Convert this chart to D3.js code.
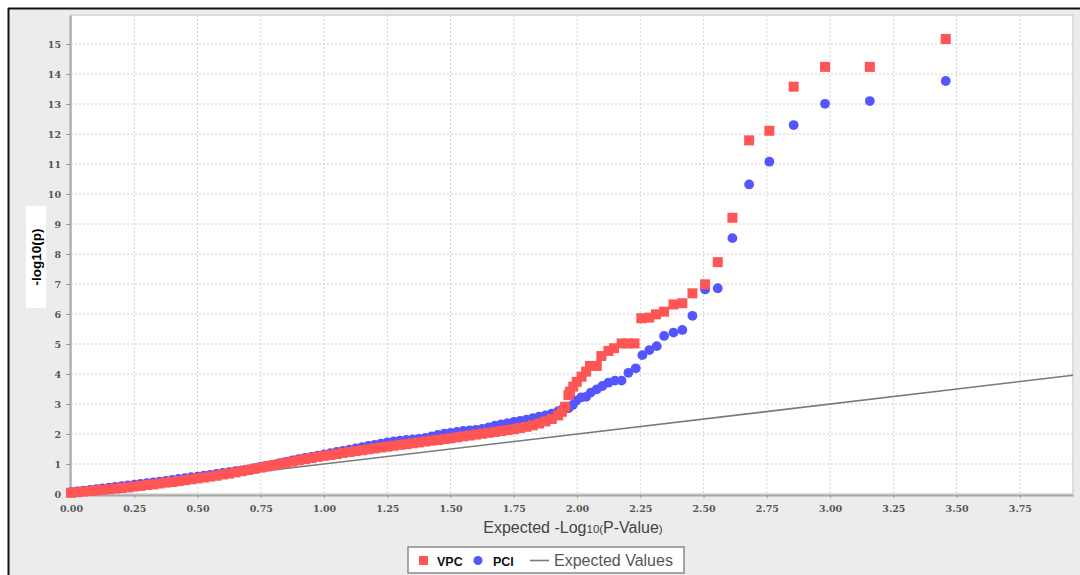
<!DOCTYPE html>
<html><head><meta charset="utf-8">
<script src="https://cdn.jsdelivr.net/npm/d3@7"></script>
<style>html,body{margin:0;padding:0;background:#fff;}svg{display:block;}</style>
</head><body>
<svg id="chart" width="1080" height="575"></svg>
<script>
// ---- data ----
const pciExpected = [0.000,0.025,0.050,0.075,0.100,0.125,0.150,0.175,0.200,0.225,0.250,0.275,0.300,0.325,0.350,0.375,0.400,0.425,0.450,0.475,0.500,0.525,0.550,0.575,0.600,0.625,0.650,0.675,0.700,0.725,0.750,0.775,0.800,0.825,0.850,0.875,0.900,0.925,0.950,0.975,1.000,1.025,1.050,1.075,1.100,1.125,1.150,1.175,1.200,1.225,1.250,1.275,1.300,1.325,1.350,1.375,1.400,1.425,1.450,1.475,1.500,1.525,1.550,1.575,1.600,1.625,1.650,1.675,1.700,1.725,1.750,1.775,1.800,1.825,1.850,1.875,1.900,1.925,
  1.946,1.966,1.983,1.996,2.016,2.036,2.054,2.078,2.100,2.124,2.150,2.176,2.203,2.232,2.258,2.286,2.315,2.344,2.381,2.416,2.456,2.506,2.556,2.614,2.680,2.760,2.856,2.980,3.157,3.457];
const pciObserved = [0.06,0.09,0.11,0.14,0.16,0.19,0.21,0.24,0.26,0.29,0.31,0.34,0.36,0.39,0.41,0.44,0.47,0.50,0.53,0.56,0.58,0.61,0.64,0.67,0.70,0.73,0.76,0.79,0.82,0.86,0.90,0.94,0.98,1.03,1.07,1.12,1.16,1.20,1.24,1.28,1.32,1.36,1.40,1.44,1.48,1.52,1.56,1.60,1.64,1.68,1.72,1.75,1.78,1.80,1.82,1.84,1.87,1.92,1.97,2.01,2.04,2.07,2.10,2.12,2.14,2.17,2.22,2.28,2.32,2.36,2.40,2.44,2.48,2.53,2.58,2.62,2.68,2.76,
  2.86,2.86,2.97,3.11,3.22,3.24,3.38,3.49,3.60,3.71,3.78,3.78,4.04,4.19,4.63,4.80,4.93,5.27,5.38,5.47,5.94,6.82,6.86,8.53,10.32,11.08,12.30,13.01,13.10,13.77];

const vpcExpected = [0.000,0.025,0.050,0.075,0.100,0.125,0.150,0.175,0.200,0.225,0.250,0.275,0.300,0.325,0.350,0.375,0.400,0.425,0.450,0.475,0.500,0.525,0.550,0.575,0.600,0.625,0.650,0.675,0.700,0.725,0.750,0.775,0.800,0.825,0.850,0.875,0.900,0.925,0.950,0.975,1.000,1.025,1.050,1.075,1.100,1.125,1.150,1.175,1.200,1.225,1.250,1.275,1.300,1.325,1.350,1.375,1.400,1.425,1.450,1.475,1.500,1.525,1.550,1.575,1.600,1.625,1.650,1.675,1.700,1.725,1.750,1.775,1.800,1.825,1.850,1.875,1.900,1.925,1.940,
  1.953,1.966,1.972,1.985,1.999,2.018,2.036,2.051,2.078,2.096,2.124,2.146,2.176,2.200,2.227,2.254,2.285,2.312,2.344,2.381,2.416,2.456,2.506,2.556,2.614,2.680,2.760,2.856,2.980,3.157,3.457];
const vpcObserved = [0.04,0.06,0.08,0.10,0.12,0.14,0.16,0.18,0.20,0.22,0.25,0.27,0.30,0.32,0.35,0.38,0.40,0.43,0.46,0.49,0.52,0.55,0.58,0.61,0.65,0.68,0.72,0.76,0.80,0.84,0.88,0.92,0.96,1.00,1.04,1.08,1.12,1.16,1.20,1.24,1.27,1.30,1.33,1.37,1.40,1.43,1.46,1.49,1.52,1.55,1.58,1.61,1.64,1.66,1.69,1.72,1.75,1.78,1.80,1.83,1.86,1.89,1.92,1.95,1.98,2.01,2.04,2.07,2.10,2.13,2.16,2.20,2.24,2.29,2.35,2.42,2.50,2.62,2.74,
  2.91,3.30,3.41,3.58,3.74,3.91,4.08,4.27,4.27,4.60,4.77,4.86,5.02,5.02,5.02,5.86,5.88,5.99,6.08,6.32,6.36,6.69,6.99,7.73,9.21,11.79,12.11,13.58,14.24,14.24,15.17];

const expectedLine = [0, 3.96];
const xTicks = [0,0.25,0.5,0.75,1,1.25,1.5,1.75,2,2.25,2.5,2.75,3,3.25,3.5,3.75];
const yTicks = [0,1,2,3,4,5,6,7,8,9,10,11,12,13,14,15];
const seriesNames = ["VPC","PCI","Expected Values"];
const xTitle = "Expected -Log";
const yTitle = "-log10(p)";

// ---- drawing ----
const svg = d3.select("#chart");
const W = 1080, H = 575;
const L = 71, R = 1073, T = 15, B = 494;
const RED = "#ff5555", BLUE = "#5555ff";

// outer background and frame
svg.append("rect").attr("x",0).attr("y",0).attr("width",W).attr("height",H).attr("fill","#ffffff");
svg.append("rect").attr("x",9).attr("y",9).attr("width",W-9).attr("height",H-9).attr("fill","#ececec");
svg.append("line").attr("x1",8).attr("x2",W).attr("y1",8.5).attr("y2",8.5).attr("stroke","#111").attr("stroke-width",2);
svg.append("line").attr("x1",8.5).attr("x2",8.5).attr("y1",8).attr("y2",H).attr("stroke","#111").attr("stroke-width",2);

const x = d3.scaleLinear().domain([0,3.96]).range([L,R]);
const y = d3.scaleLinear().domain([0,15.97]).range([B,T]);

// plot background
svg.append("rect").attr("x",L).attr("y",T).attr("width",R-L).attr("height",B-T)
  .attr("fill","#fff").attr("stroke","#d4d4d4").attr("stroke-width",1.5);

// grid
const grid = svg.append("g");
grid.selectAll("line.gx").data(xTicks.slice(1)).join("line")
  .attr("x1",d=>x(d)).attr("x2",d=>x(d)).attr("y1",T).attr("y2",B)
  .attr("stroke","#d2d2d2").attr("stroke-width",1).attr("stroke-dasharray","2,2");
grid.selectAll("line.gy").data(yTicks.slice(1)).join("line")
  .attr("x1",L).attr("x2",R).attr("y1",d=>y(d)).attr("y2",d=>y(d))
  .attr("stroke","#d2d2d2").attr("stroke-width",1).attr("stroke-dasharray","2,2");

// axes
const xAxis = svg.append("g").attr("transform",`translate(0,${B+1})`)
  .call(d3.axisBottom(x).tickValues(xTicks).tickFormat(d3.format(".2f")).tickSize(3).tickSizeOuter(0));
const yAxis = svg.append("g").attr("transform",`translate(${L-1},0)`)
  .call(d3.axisLeft(y).tickValues(yTicks).tickFormat(d3.format("d")).tickSize(4).tickSizeOuter(0));
[xAxis,yAxis].forEach(a=>{
  a.select(".domain").attr("stroke","#a8a8a8").attr("stroke-width",2);
  a.selectAll(".tick line").attr("stroke","#999");
  a.selectAll(".tick text").attr("fill","#555").attr("font-family","DejaVu Serif").attr("font-size",9.5).attr("font-weight","bold");
});
xAxis.selectAll(".tick text").attr("dy","1.2em");
yAxis.selectAll(".tick text").attr("dx","-2");

// expected line
svg.append("line")
  .attr("x1",x(expectedLine[0])).attr("y1",y(expectedLine[0]))
  .attr("x2",x(expectedLine[1])).attr("y2",y(expectedLine[1]))
  .attr("stroke","#7a7a7a").attr("stroke-width",1.6);

// PCI (blue circles)
svg.append("g").selectAll("circle").data(pciExpected.map((e,i)=>[e,pciObserved[i]])).join("circle")
  .attr("cx",d=>x(d[0])).attr("cy",d=>y(d[1])).attr("r",4.9).attr("fill",BLUE);
// VPC (red squares)
const s = 10;
svg.append("g").selectAll("rect").data(vpcExpected.map((e,i)=>[e,vpcObserved[i]])).join("rect")
  .attr("x",d=>x(d[0])-s/2).attr("y",d=>y(d[1])-s/2).attr("width",s).attr("height",s).attr("fill",RED);

// x title
const xt = svg.append("text").attr("x",573).attr("y",533).attr("text-anchor","middle")
  .attr("font-family","Liberation Sans, Arial, sans-serif").attr("font-size",16).attr("fill","#444");
xt.append("tspan").text(xTitle);
xt.append("tspan").attr("font-size",11.5).text("10(");
xt.append("tspan").text("P-Value");
xt.append("tspan").attr("font-size",11.5).text(")");

// y title
svg.append("rect").attr("x",26).attr("y",206).attr("width",20).attr("height",102).attr("fill","#fff");
svg.append("text").attr("transform","translate(41,257) rotate(-90)").attr("text-anchor","middle")
  .attr("font-family","Liberation Sans, Arial, sans-serif").attr("font-weight","bold").attr("font-size",13.5)
  .attr("fill","#000").text(yTitle);

// legend
const lg = svg.append("g");
lg.append("rect").attr("x",408).attr("y",547).attr("width",276).attr("height",26)
  .attr("fill","#fff").attr("stroke","#8a8a8a").attr("stroke-width",1.5);
lg.append("rect").attr("x",419).attr("y",556).attr("width",9).attr("height",9).attr("fill",RED);
lg.append("text").attr("x",437).attr("y",566).attr("font-family","Liberation Sans, Arial, sans-serif")
  .attr("font-weight","bold").attr("font-size",12.5).attr("fill","#111").text(seriesNames[0]);
lg.append("circle").attr("cx",478).attr("cy",560.5).attr("r",4.5).attr("fill",BLUE);
lg.append("text").attr("x",493).attr("y",566).attr("font-family","Liberation Sans, Arial, sans-serif")
  .attr("font-weight","bold").attr("font-size",12.5).attr("fill","#111").text(seriesNames[1]);
lg.append("line").attr("x1",530).attr("x2",549).attr("y1",560.5).attr("y2",560.5).attr("stroke","#7a7a7a").attr("stroke-width",1.6);
lg.append("text").attr("x",554).attr("y",566).attr("font-family","Liberation Sans, Arial, sans-serif")
  .attr("font-size",16).attr("fill","#555").text(seriesNames[2]);
</script>
</body></html>
